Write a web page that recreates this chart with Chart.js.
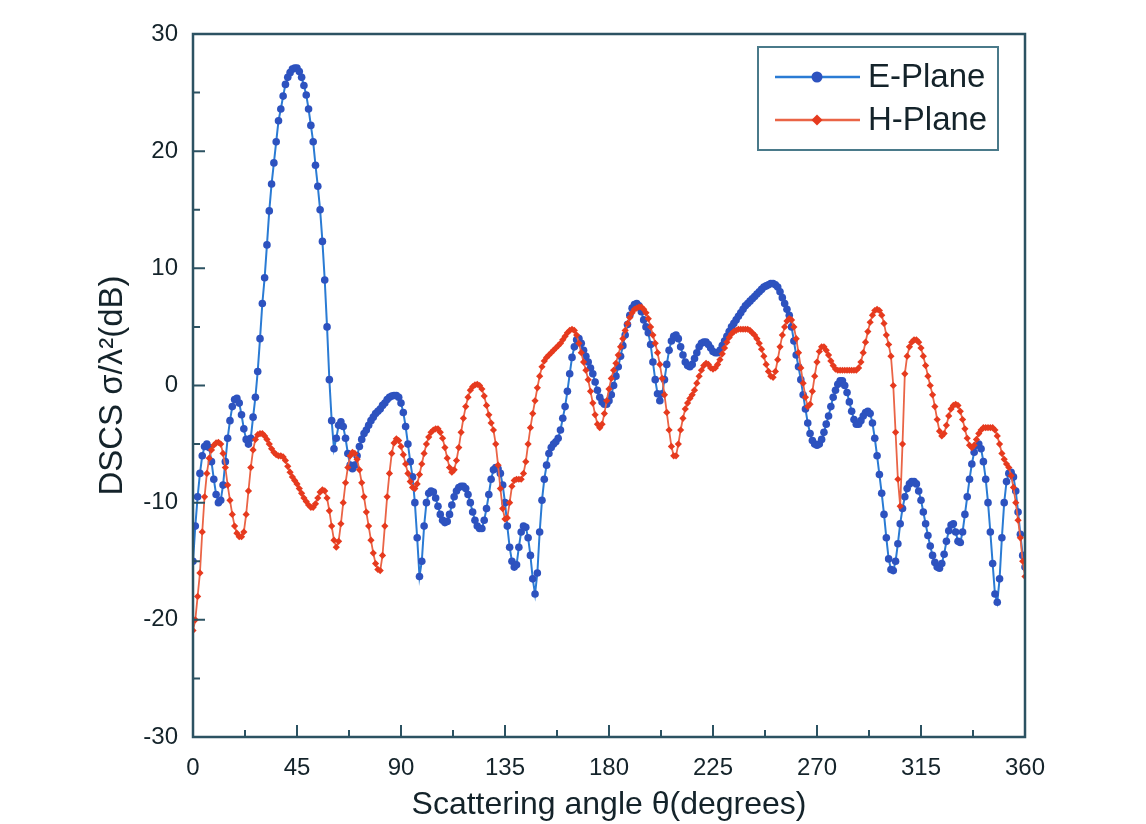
<!DOCTYPE html>
<html>
<head>
<meta charset="utf-8">
<script src="https://cdn.jsdelivr.net/npm/chart.js@4.4.1/dist/chart.umd.min.js"></script>
<style>
html,body{margin:0;padding:0;background:#fff;}
#wrap{width:1146px;height:824px;position:relative;}
</style>
</head>
<body>
<div id="wrap"><canvas id="c" width="1146" height="824"></canvas></div>
<script>
// E-Plane values, 0..360 degrees in 1-degree steps
const ePlane = [
-15,-12,-9.5,-7.5,-6,-5.2,-5,-5.3,-6.5,-8,
-9.3,-10,-9.8,-8.5,-6.5,-4.5,-3,-1.8,-1.2,-1.1,
-1.5,-2.5,-3.7,-4.6,-5,-4.5,-2.7,-1,1.2,4,
7,9.2,12,14.9,17.2,19,20.8,22.6,23.6,24.7,
25.7,26.3,26.7,27,27.1,27.1,26.8,26.3,25.6,24.8,
23.6,22.2,20.8,18.8,17,15,12.3,9,5,0.5,
-3,-5.4,-4.5,-3.4,-3.1,-3.5,-4.5,-5.8,-6.8,-7.1,
-6.8,-6,-5.2,-4.6,-4.1,-3.8,-3.4,-3,-2.7,-2.4,
-2.2,-2,-1.7,-1.5,-1.2,-1,-0.9,-0.85,-0.85,-1,
-1.5,-2.3,-3.5,-5,-6.5,-7.8,-10,-13,-16.3,-15,
-12,-10,-9.2,-9,-9.1,-9.6,-10.3,-11,-11.5,-11.7,
-11.6,-11,-10.2,-9.5,-9,-8.7,-8.6,-8.6,-8.8,-9.3,
-10,-10.8,-11.5,-12,-12.2,-12.2,-11.5,-10.5,-9.3,-8,
-7.2,-7,-7.1,-7.5,-8.5,-10,-12,-13.8,-15,-15.5,
-15.3,-13.8,-12.5,-12,-12.1,-13,-14.5,-16.5,-17.8,-16,
-12.5,-9.8,-8,-6.8,-5.8,-5.3,-5,-4.8,-4.5,-3.8,
-2.8,-1.8,-0.5,1,2.4,3.3,3.9,4,3.6,3,
2.5,2,1.5,1,0.3,-0.4,-1,-1.4,-1.6,-1.6,
-1.3,-0.8,0,0.8,1.6,2.5,3.4,4.3,5.2,6,
6.6,6.9,7,6.8,6.3,5.6,5,4.5,3.5,2,
0.5,-0.7,-1.3,-0.7,0.5,1.8,3,3.8,4.2,4.3,
4,3.3,2.6,2,1.7,1.6,1.8,2.3,2.8,3.3,
3.6,3.7,3.7,3.5,3.2,2.9,2.8,2.8,3,3.4,
3.8,4.2,4.6,5,5.3,5.6,5.9,6.2,6.5,6.8,
7,7.2,7.4,7.6,7.8,8,8.2,8.4,8.5,8.6,
8.7,8.7,8.6,8.4,8,7.5,7,6.5,6,5,
3.8,2.6,1.6,0.5,-0.8,-2,-3.2,-4.1,-4.7,-5,
-5.1,-5,-4.6,-4,-3.3,-2.6,-1.8,-1,-0.4,0.1,
0.4,0.4,0,-0.6,-1.4,-2.2,-2.9,-3.3,-3.3,-3,
-2.6,-2.3,-2.2,-2.4,-3.2,-4.5,-6,-7.6,-9.2,-11,
-13,-14.8,-15.7,-15.8,-15,-13.5,-11.8,-10.5,-9.5,-8.8,
-8.4,-8.2,-8.2,-8.4,-9,-9.8,-10.8,-11.8,-12.8,-13.7,
-14.5,-15.1,-15.5,-15.6,-15.2,-14.4,-13.3,-12.4,-11.9,-11.8,
-12.5,-13.3,-13.4,-12.5,-11,-9.5,-8,-6.7,-5.7,-5.1,
-5,-5.4,-6.5,-8,-10,-12.5,-15.2,-17.8,-18.5,-16.5,
-13,-10,-8.2,-7.5,-7.4,-7.8,-9,-10.8,-12.7,-14.5,
-15.5
];
// H-Plane values, 0..360 degrees in 1-degree steps
const hPlane = [
-20.9,-20,-18,-16,-12.5,-9.5,-7.5,-6.2,-5.5,-5.1,
-4.9,-4.85,-5,-5.8,-7,-8.5,-9.8,-11,-12,-12.6,
-12.9,-12.9,-12.5,-11,-9,-7,-5.5,-4.6,-4.2,-4.1,
-4.1,-4.3,-4.6,-5,-5.4,-5.7,-5.9,-6,-6,-6.1,
-6.4,-6.9,-7.4,-7.8,-8.1,-8.4,-8.8,-9.2,-9.6,-9.9,
-10.2,-10.4,-10.4,-10.1,-9.6,-9.1,-8.9,-9,-9.6,-10.7,
-12,-13.2,-13.8,-13.3,-11.8,-10,-8.3,-7,-6,-5.7,
-5.8,-6.3,-7.2,-8.3,-9.5,-10.8,-12,-13.2,-14.3,-15.2,
-15.7,-15.8,-14.5,-12,-9.5,-7.5,-5.8,-4.9,-4.55,-4.7,
-5.2,-5.9,-6.7,-7.5,-8.2,-8.7,-8.8,-8.4,-7.6,-6.7,
-5.8,-5,-4.4,-4,-3.8,-3.7,-3.7,-4,-4.5,-5.3,
-6.2,-7,-7.4,-7.2,-6.4,-5.3,-4,-2.8,-1.8,-1,
-0.4,-0.1,0.05,0.1,0,-0.3,-0.9,-1.7,-2.5,-3.2,
-3.8,-5,-6.8,-8.8,-10.5,-11.4,-11.3,-10,-8.6,-8.1,
-8,-8,-8,-7.5,-6.5,-5,-3.6,-2.4,-1.3,-0.2,
0.8,1.6,2.1,2.4,2.6,2.8,3,3.2,3.4,3.6,
3.9,4.2,4.5,4.7,4.8,4.7,4.3,3.6,2.8,2,
1.3,0.5,-0.5,-1.5,-2.5,-3.3,-3.6,-3.3,-2.4,-1.3,
-0.3,0.6,1.3,1.9,2.6,3.3,4,4.7,5.3,5.8,
6.2,6.5,6.6,6.7,6.7,6.5,6.2,5.7,5,4.3,
3.6,2.8,1.8,0.6,-0.8,-2.3,-3.8,-5.2,-6,-6,
-5,-3.8,-2.8,-2,-1.5,-1.1,-0.8,-0.4,0.2,0.8,
1.3,1.7,1.9,1.8,1.5,1.4,1.5,1.8,2.2,2.7,
3.2,3.7,4.1,4.4,4.6,4.7,4.8,4.8,4.8,4.8,
4.8,4.7,4.5,4.3,4,3.6,3.1,2.5,1.8,1.2,
0.8,0.7,1.2,2.2,3.3,4.3,5,5.5,5.7,5.6,
5,4,2.8,1.5,0.2,-1,-1.8,-1.6,-0.5,0.8,
2,2.9,3.3,3.3,3,2.6,2.1,1.7,1.4,1.3,
1.3,1.3,1.3,1.3,1.3,1.3,1.3,1.3,1.5,2,
2.8,3.7,4.6,5.4,6,6.4,6.5,6.4,6,5.3,
4.3,3.5,2.5,0,-4,-8,-10.3,-5,1,2.5,
3.3,3.7,3.9,3.9,3.7,3.2,2.5,1.7,0.8,0,
-0.8,-1.8,-2.9,-3.9,-4.3,-4.1,-3.4,-2.6,-2,-1.7,
-1.6,-1.7,-2.2,-2.9,-3.7,-4.5,-5.1,-5.3,-5.1,-4.6,
-4.1,-3.8,-3.6,-3.6,-3.6,-3.6,-3.6,-3.8,-4.3,-5,
-5.8,-6.3,-6.7,-7,-7.7,-8.7,-10,-11.5,-13,-15,
-16.3
];
const angleStart = 0, angleStep = 1;
const angles = ePlane.map((_, i) => angleStart + i * angleStep);
const xTicks = [0, 45, 90, 135, 180, 225, 270, 315, 360];
const yTicks = [-30, -20, -10, 0, 10, 20, 30];
const seriesNames = ['E-Plane', 'H-Plane'];

const FONT = '"Liberation Sans", Arial, sans-serif';
const AXIS = '#2c5262';
const TEXT = '#14232a';

const toXY = (vals) => vals.map((v, i) => ({x: angles[i], y: v}));

const frameTicks = {
  id: 'frameTicks',
  afterDatasetsDraw(chart) {
    const {ctx, chartArea: a, scales: {x, y}} = chart;
    ctx.save();
    ctx.strokeStyle = AXIS;
    ctx.lineWidth = 2;
    ctx.beginPath();
    for (let v = 0; v <= 360; v += 22.5) {
      const px = x.getPixelForValue(v);
      const len = (v % 45 === 0) ? 12 : 7;
      ctx.moveTo(px, a.bottom); ctx.lineTo(px, a.bottom - len);
    }
    for (let v = -30; v <= 30; v += 5) {
      const py = y.getPixelForValue(v);
      const len = (v % 10 === 0) ? 12 : 7;
      ctx.moveTo(a.left, py); ctx.lineTo(a.left + len, py);
    }
    ctx.stroke();
    ctx.lineWidth = 2.5;
    ctx.strokeRect(a.left, a.top, a.right - a.left, a.bottom - a.top);
    ctx.restore();
  }
};

const boxLegend = {
  id: 'boxLegend',
  afterDraw(chart) {
    const {ctx, chartArea: a} = chart;
    const bx = a.right - 267, by = a.top + 13, bw = 240, bh = 103;
    ctx.save();
    ctx.strokeStyle = '#4a7a8a';
    ctx.lineWidth = 2;
    ctx.strokeRect(bx, by, bw, bh);
    chart.data.datasets.forEach((ds, i) => {
      const ly = by + 30 + i * 43;
      ctx.strokeStyle = ds.borderColor;
      ctx.lineWidth = 2.5;
      ctx.beginPath();
      ctx.moveTo(bx + 17, ly); ctx.lineTo(bx + 102, ly);
      ctx.stroke();
      ctx.fillStyle = ds.pointBackgroundColor;
      ctx.beginPath();
      if (ds.pointStyle === 'rectRot') {
        const r = 5.5;
        ctx.moveTo(bx + 59, ly - r); ctx.lineTo(bx + 59 + r, ly);
        ctx.lineTo(bx + 59, ly + r); ctx.lineTo(bx + 59 - r, ly);
        ctx.closePath();
      } else {
        ctx.arc(bx + 59, ly, 5.5, 0, Math.PI * 2);
      }
      ctx.fill();
      ctx.fillStyle = TEXT;
      ctx.font = '33px ' + FONT;
      ctx.textBaseline = 'middle';
      ctx.textAlign = 'left';
      ctx.fillText(ds.label, bx + 110, ly + 1);
    });
    ctx.restore();
  }
};

new Chart(document.getElementById('c'), {
  type: 'line',
  data: {
    datasets: [
      {
        label: seriesNames[0],
        data: toXY(ePlane),
        borderColor: '#2a7bd4',
        borderWidth: 2,
        pointStyle: 'circle',
        pointRadius: 3.8,
        pointBorderWidth: 0,
        pointBackgroundColor: '#2d52bf',
        pointBorderColor: '#2d52bf',
        tension: 0,
        order: 1
      },
      {
        label: seriesNames[1],
        data: toXY(hPlane),
        borderColor: '#ea6446',
        borderWidth: 1.8,
        pointStyle: 'rectRot',
        pointRadius: 3.6,
        pointBorderWidth: 0,
        pointBackgroundColor: '#e63a1e',
        pointBorderColor: '#e63a1e',
        tension: 0,
        order: 0
      }
    ]
  },
  options: {
    responsive: false,
    animation: false,
    devicePixelRatio: 1,
    layout: {padding: {left: 93, top: 34, right: 121, bottom: 0}},
    plugins: {legend: {display: false}, tooltip: {enabled: false}},
    scales: {
      x: {
        type: 'linear',
        min: 0, max: 360,
        afterBuildTicks: (s) => { s.ticks = xTicks.map(v => ({value: v})); },
        afterFit: (s) => { s.height = 87; },
        grid: {display: false, drawTicks: false},
        border: {display: false},
        ticks: {color: TEXT, font: {family: FONT, size: 24}, padding: 17, maxRotation: 0, autoSkip: false},
        title: {display: true, text: 'Scattering angle θ(degrees)', color: TEXT,
                font: {family: FONT, size: 32}, padding: {top: 0, bottom: 0}}
      },
      y: {
        type: 'linear',
        min: -30, max: 30,
        afterBuildTicks: (s) => { s.ticks = yTicks.map(v => ({value: v})); },
        afterFit: (s) => { s.width = 100; },
        grid: {display: false, drawTicks: false},
        border: {display: false},
        ticks: {color: TEXT, font: {family: FONT, size: 24}, padding: 15},
        title: {display: true, text: 'DSCS σ/λ²(dB)', color: TEXT,
                font: {family: FONT, size: 33}, padding: {top: 0, bottom: 0}}
      }
    }
  },
  plugins: [frameTicks, boxLegend]
});
</script>
</body>
</html>
